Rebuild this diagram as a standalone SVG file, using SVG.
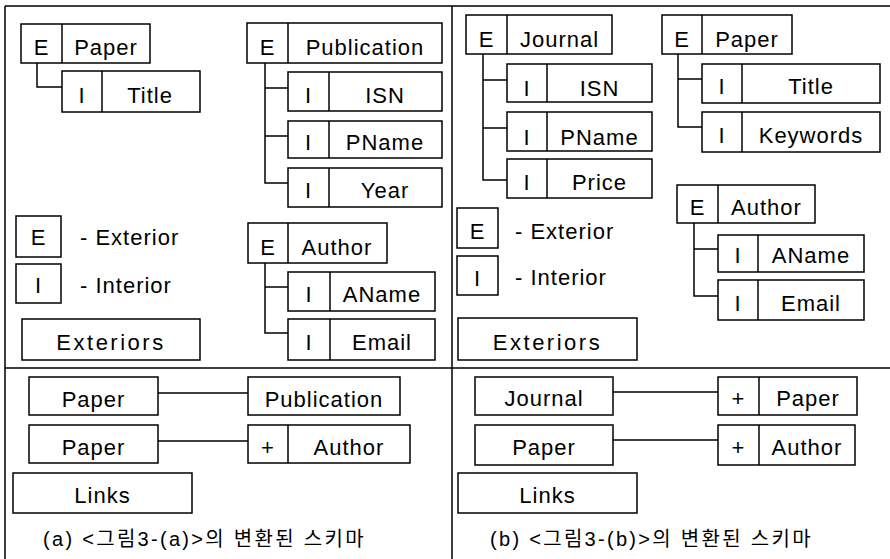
<svg xmlns="http://www.w3.org/2000/svg" width="890" height="559" viewBox="0 0 890 559">
<style>
.b{fill:#fff;stroke:#000;stroke-width:1.5}
.d{stroke:#000;stroke-width:1.5;fill:none}
.c{stroke:#000;stroke-width:1.5;fill:none}
.f{stroke:#000;stroke-width:1.5;fill:none}
text{font-family:"Liberation Sans",Arial,sans-serif;font-size:22px;letter-spacing:1px;fill:#000;text-anchor:middle}
.l{text-anchor:start}
.x{letter-spacing:2.5px}
.cap{font-family:"Liberation Sans","Noto Sans CJK KR",sans-serif;font-size:20px;letter-spacing:2.3px;text-anchor:start}
</style>
<rect width="890" height="559" fill="#fff"/>
<g id="frame">
<path class="f" d="M5 6H890M5 6V559M452 6V559M5 368H890"/>
</g>
<g id="connectors">
<path class="c" d="M37 63V87H62"/>
<path class="c" d="M265 63V183H288M265 88H288M265 136H288"/>
<path class="c" d="M265 263V333H288M265 287H288"/>
<path class="c" d="M483 54V180H507M483 80H507M483 128H507"/>
<path class="c" d="M678 54V127H702M678 79H702"/>
<path class="c" d="M694 223V296H718M694 249H718"/>
<path class="c" d="M158 393H248M158 441H248"/>
<path class="c" d="M613 392H718M613 440H718"/>
</g>
<g id="a-paper"><rect class="b" x="21" y="24" width="129" height="39"/><path class="d" d="M62 24V63"/><text x="41.5" y="55">E</text><text x="106" y="55">Paper</text></g>
<g id="a-title"><rect class="b" x="62" y="71" width="138" height="41"/><path class="d" d="M102 71V112"/><text x="82" y="103">I</text><text x="150" y="103">Title</text></g>
<g id="a-publication"><rect class="b" x="247" y="23" width="195" height="40"/><path class="d" d="M288 23V63"/><text x="267.5" y="55">E</text><text x="365" y="55">Publication</text></g>
<g id="a-isn"><rect class="b" x="288" y="72" width="154" height="39"/><path class="d" d="M329 72V111"/><text x="308.5" y="103">I</text><text x="385" y="103">ISN</text></g>
<g id="a-pname"><rect class="b" x="288" y="121" width="154" height="37"/><path class="d" d="M329 121V158"/><text x="308.5" y="150">I</text><text x="385" y="150">PName</text></g>
<g id="a-year"><rect class="b" x="288" y="168" width="154" height="39"/><path class="d" d="M329 168V207"/><text x="308.5" y="198">I</text><text x="385" y="198">Year</text></g>
<g id="a-author"><rect class="b" x="248" y="223" width="139" height="40"/><path class="d" d="M288 223V263"/><text x="268" y="255">E</text><text x="337" y="255">Author</text></g>
<g id="a-aname"><rect class="b" x="288" y="272" width="147" height="39"/><path class="d" d="M330 272V311"/><text x="309" y="302">I</text><text x="382" y="302">AName</text></g>
<g id="a-email"><rect class="b" x="288" y="319" width="147" height="41"/><path class="d" d="M330 319V360"/><text x="309" y="350">I</text><text x="382" y="350">Email</text></g>
<g id="a-legend-e"><rect class="b" x="16" y="216" width="45" height="41"/><text x="38.5" y="245">E</text><text class="l" x="80" y="245">- Exterior</text></g>
<g id="a-legend-i"><rect class="b" x="16" y="264" width="45" height="39"/><text x="38.5" y="293">I</text><text class="l" x="80" y="293">- Interior</text></g>
<g id="a-exteriors"><rect class="b" x="22" y="319" width="178" height="41"/><text class="x" x="111" y="350">Exteriors</text></g>

<g id="b-journal"><rect class="b" x="466" y="15" width="146" height="39"/><path class="d" d="M507 15V54"/><text x="486.5" y="47">E</text><text x="559.5" y="47">Journal</text></g>
<g id="b-isn"><rect class="b" x="507" y="64" width="145" height="38"/><path class="d" d="M547 64V102"/><text x="527" y="96">I</text><text x="599.5" y="96">ISN</text></g>
<g id="b-pname"><rect class="b" x="507" y="112" width="145" height="39"/><path class="d" d="M547 112V151"/><text x="527" y="145">I</text><text x="599.5" y="145">PName</text></g>
<g id="b-price"><rect class="b" x="507" y="159" width="145" height="39"/><path class="d" d="M547 159V198"/><text x="527" y="190">I</text><text x="599.5" y="190">Price</text></g>
<g id="b-paper"><rect class="b" x="662" y="15" width="130" height="39"/><path class="d" d="M702 15V54"/><text x="682" y="47">E</text><text x="747" y="47">Paper</text></g>
<g id="b-title"><rect class="b" x="702" y="64" width="178" height="39"/><path class="d" d="M742 64V103"/><text x="722" y="94">I</text><text x="811" y="94">Title</text></g>
<g id="b-keywords"><rect class="b" x="702" y="112" width="178" height="40"/><path class="d" d="M742 112V152"/><text x="722" y="143">I</text><text x="811" y="143">Keywords</text></g>
<g id="b-author"><rect class="b" x="677" y="185" width="138" height="38"/><path class="d" d="M718 185V223"/><text x="697.5" y="215">E</text><text x="766.5" y="215">Author</text></g>
<g id="b-aname"><rect class="b" x="718" y="235" width="146" height="37"/><path class="d" d="M758 235V272"/><text x="738" y="263">I</text><text x="811" y="263">AName</text></g>
<g id="b-email"><rect class="b" x="718" y="280" width="146" height="40"/><path class="d" d="M758 280V320"/><text x="738" y="311">I</text><text x="811" y="311">Email</text></g>
<g id="b-legend-e"><rect class="b" x="457" y="208" width="41" height="40"/><text x="477.5" y="239">E</text><text class="l" x="515" y="239">- Exterior</text></g>
<g id="b-legend-i"><rect class="b" x="457" y="256" width="41" height="39"/><text x="477.5" y="286">I</text><text class="l" x="515" y="285">- Interior</text></g>
<g id="b-exteriors"><rect class="b" x="458" y="318" width="179" height="42"/><text class="x" x="547.5" y="350">Exteriors</text></g>

<g id="a-link-paper1"><rect class="b" x="29" y="377" width="129" height="38"/><text x="93.5" y="407">Paper</text></g>
<g id="a-link-publication"><rect class="b" x="248" y="377" width="152" height="38"/><text x="324" y="407">Publication</text></g>
<g id="a-link-paper2"><rect class="b" x="29" y="425" width="129" height="38"/><text x="93.5" y="455">Paper</text></g>
<g id="a-link-author"><rect class="b" x="248" y="425" width="162" height="38"/><path class="d" d="M288 425V463"/><text x="268" y="455">+</text><text x="349" y="455">Author</text></g>
<g id="a-links"><rect class="b" x="13" y="473" width="179" height="40"/><text x="102.5" y="503">Links</text></g>
<text class="cap" x="43" y="546">(a) &lt;그림3-(a)&gt;의 변환된 스키마</text>

<g id="b-link-journal"><rect class="b" x="475" y="377" width="138" height="38"/><text x="544" y="406">Journal</text></g>
<g id="b-link-paper"><rect class="b" x="718" y="377" width="139" height="38"/><path class="d" d="M759 377V415"/><text x="738.5" y="406">+</text><text x="808" y="406">Paper</text></g>
<g id="b-link-paper2"><rect class="b" x="475" y="425" width="138" height="40"/><text x="544" y="455">Paper</text></g>
<g id="b-link-author"><rect class="b" x="718" y="425" width="137" height="40"/><path class="d" d="M759 425V465"/><text x="738.5" y="455">+</text><text x="807" y="455">Author</text></g>
<g id="b-links"><rect class="b" x="458" y="473" width="179" height="40"/><text x="547.5" y="503">Links</text></g>
<text class="cap" x="490" y="546">(b) &lt;그림3-(b)&gt;의 변환된 스키마</text>
</svg>
